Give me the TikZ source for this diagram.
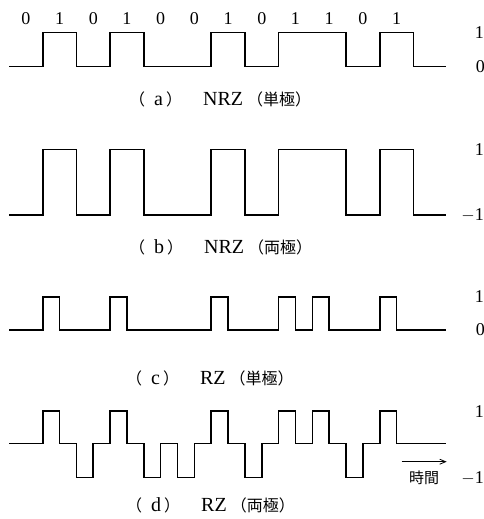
\documentclass[tikz,border=0pt]{standalone}
\usepackage{fontspec}
\setmainfont{Liberation Serif}
\newfontfamily\cjk{Noto Sans CJK JP}
\usetikzlibrary{arrows.meta}

% caption: (letter)  code (polarity)
\newcommand{\wavecap}[3]{{\cjk\fontsize{16}{16}\selectfont （}\hspace{9pt}#1\hspace{3pt}{\cjk\fontsize{16}{16}\selectfont ）}\hspace{21pt}#2\hspace{4pt}{\cjk\fontsize{16}{16}\selectfont （#3）}}

\begin{document}
\begin{tikzpicture}[x=1pt,y=-1pt,
  wave/.style={line width=1.6pt, line join=miter, line cap=rect},
  bitlbl/.style={inner sep=0pt, font=\fontsize{18}{18}\selectfont},
  lvl/.style={inner sep=0pt, anchor=east, font=\fontsize{18}{18}\selectfont},
  caplbl/.style={inner sep=0pt, anchor=west, font=\fontsize{20}{20}\selectfont},
  timearrow/.style={line width=0.8pt, -{Straight Barb[length=6pt,width=5pt]}}]

\useasboundingbox (0,0) rectangle (484,519);

% bit values over the first trace
\foreach \b [count=\i from 0] in {0,1,0,1,0,0,1,0,1,1,0,1}
  \node[bitlbl] (bit\i) at ({9+33.7*(\i+0.5)},19) {\b};

% traces, one bit = 33.7pt
\begin{scope}[xshift=9pt, x=33.7pt]
  % (a) NRZ unipolar
  \draw[wave] (0.03,66.7) -| (1,32.7) -| (2,66.7) -| (3,32.7) -| (4,66.7)
    -| (6,32.7) -| (7,66.7) -| (8,32.7) -| (10,66.7) -| (11,32.7) -| (12,66.7)
    -- (12.94,66.7);
  % (b) NRZ bipolar
  \draw[wave] (0.03,215) -| (1,149.3) -| (2,215) -| (3,149.3) -| (4,215)
    -| (6,149.3) -| (7,215) -| (8,149.3) -| (10,215) -| (11,149.3) -| (12,215)
    -- (12.94,215);
  % (c) RZ unipolar
  \draw[wave] (0.03,330) -| (1,296.7) -| (1.5,330) -| (3,296.7) -| (3.5,330)
    -| (6,296.7) -| (6.5,330) -| (8,296.7) -| (8.5,330) -| (9,296.7) -| (9.5,330)
    -| (11,296.7) -| (11.5,330) -- (12.94,330);
  % (d) RZ bipolar
  \draw[wave] (0.03,443.3) -| (1,410.7) -| (1.5,443.3) -| (2,477.3) -| (2.5,443.3)
    -| (3,410.7) -| (3.5,443.3) -| (4,477.3) -| (4.5,443.3) -| (5,477.3) -| (5.5,443.3)
    -| (6,410.7) -| (6.5,443.3) -| (7,477.3) -| (7.5,443.3) -| (8,410.7) -| (8.5,443.3)
    -| (9,410.7) -| (9.5,443.3) -| (10,477.3) -| (10.5,443.3) -| (11,410.7) -| (11.5,443.3)
    -- (12.94,443.3);
\end{scope}

% level marks
\node[lvl] (a1) at (484,32.7) {1};
\node[lvl] (a0) at (485,66.7) {0};
\node[lvl] (b1) at (484,149.3) {1};
\node[lvl] (bm) at (484,215) {$-$1};
\node[lvl] (c1) at (484,296.7) {1};
\node[lvl] (c0) at (485,330) {0};
\node[lvl] (d1) at (484,412) {1};
\node[lvl] (dm) at (484,478) {$-$1};

% time axis hint
\coordinate (t0) at (401.7,461.7);
\coordinate (t1) at (446.7,461.7);
\draw[timearrow] (t0) -- (t1);
\node[inner sep=0pt, font=\cjk\fontsize{15}{15}\selectfont] (tl) at (424,478) {時間};

% captions
\node[caplbl] (capa) at (129,99) {\wavecap{a}{NRZ}{単極}};
\node[caplbl] (capb) at (129,247) {\wavecap{b}{NRZ}{両極}};
\node[caplbl] (capc) at (126,378) {\wavecap{c}{RZ}{単極}};
\node[caplbl] (capd) at (126,505) {\wavecap{d}{RZ}{両極}};
\end{tikzpicture}
\end{document}
